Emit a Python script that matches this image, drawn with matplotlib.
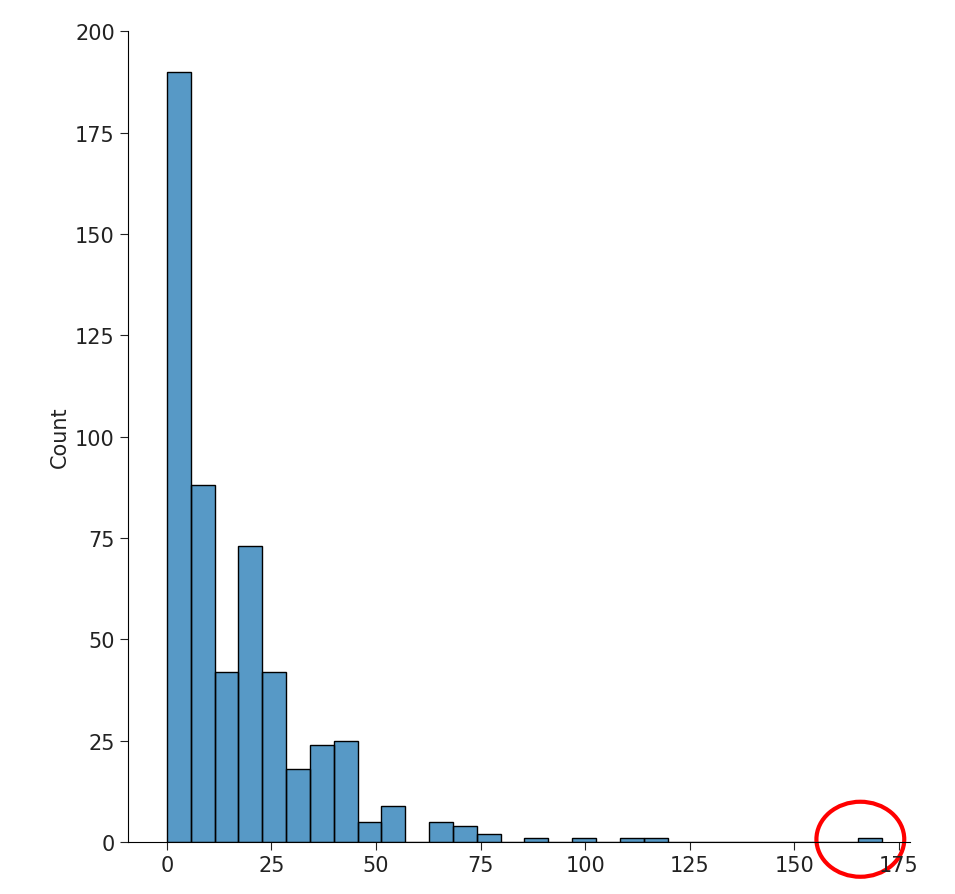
import matplotlib
matplotlib.use("Agg")
import matplotlib.pyplot as plt
from matplotlib.patches import Ellipse
import numpy as np

bin_start = 0.0
bin_width = 5.7
counts = [190, 88, 42, 73, 42, 18, 24, 25, 5, 9, 0, 5, 4, 2, 0, 1, 0, 1, 0, 1, 1,
          0, 0, 0, 0, 0, 0, 0, 0, 1]
xticks = [0, 25, 50, 75, 100, 125, 150, 175]
yticks = [0, 25, 50, 75, 100, 125, 150, 175, 200]

fig = plt.figure(figsize=(9.55, 8.95), dpi=100)
ax = fig.add_axes([0.134, 0.058, 0.819, 0.906])
lefts = bin_start + bin_width * np.arange(len(counts))
ax.bar(lefts, counts, width=bin_width, align='edge', color='#1f77b4', alpha=0.75,
       edgecolor='none')
ax.bar(lefts, counts, width=bin_width, align='edge', fill=False, edgecolor='black', lw=1)
ax.set_xlim(-9.3, 177.7)
ax.set_ylim(0, 200)
ax.set_xticks(xticks)
ax.set_yticks(yticks)
ax.tick_params(labelsize=15, colors='#222222', length=6)
ax.set_ylabel('Count', fontsize=15, color='#222222')
for s in ['top', 'right']:
    ax.spines[s].set_visible(False)
ax.add_patch(Ellipse((165.8, 0.7), 21, 18.5, fill=False, edgecolor='red', lw=3, clip_on=False))
fig.savefig('out.png', dpi=100)
